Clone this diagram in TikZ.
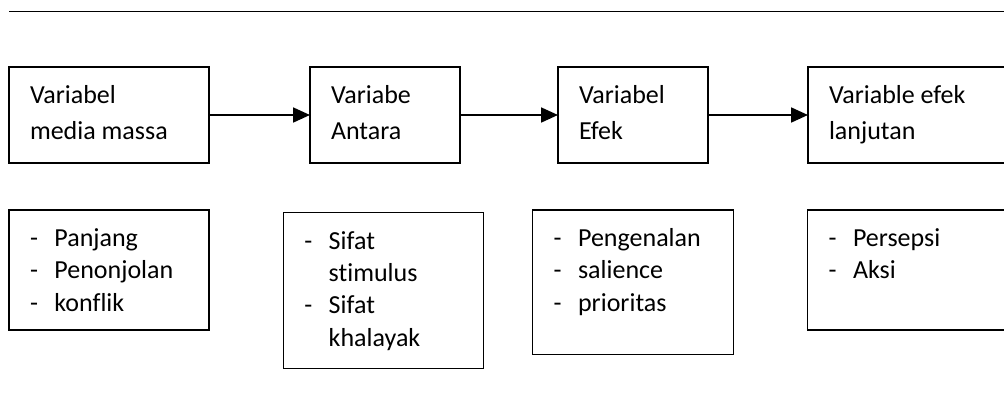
\documentclass[tikz,border=0pt]{standalone}
\usepackage{fontspec}
\setmainfont{Carlito}[Ligatures={NoCommon}]
\usepackage{tikz}
\usetikzlibrary{arrows.meta}

\newcommand{\isi}[3]{\parbox[c][#1][t]{#2}{\rule{0pt}{0.92cm}#3}}
\newcommand{\strip}{\makebox[0.61cm][l]{-}}

\begin{document}
\begin{tikzpicture}
	\clip (0,0) rectangle (25.1,-9.925);
	\draw[line width=1pt] (0.225,-0.2875) -- (25.3,-0.2875);
	\tikzstyle{every node}=[draw,rectangle,anchor=north west,inner xsep=0.525cm,inner ysep=0pt,outer sep=0pt,line width=1pt,font=\fontsize{18.5pt}{25.6pt}\selectfont];
	\node (v1) at (0.225,-1.675) {\isi{2.4cm}{3.95cm}{Variabel\\media massa}};
	\node (v2) at (7.75,-1.675) {\isi{2.4cm}{2.7cm}{Variabe\\Antara}};
	\node (v3) at (13.95,-1.675) {\isi{2.4cm}{2.7cm}{Variabel\\Efek}};
	\node (v4) at (20.2,-1.675) {\isi{2.4cm}{4.2cm}{Variable efek\\lanjutan}};
	\tikzstyle{every node}=[draw,rectangle,anchor=north west,inner xsep=0.525cm,inner ysep=0pt,outer sep=0pt,line width=1pt,font=\fontsize{18.5pt}{22.9pt}\selectfont];
	\node (d1) at (0.225,-5.25) {\isi{3cm}{3.95cm}{\strip Panjang\\\strip Penonjolan\\\strip konflik}};
	\node (d2) at (7.083,-5.317) {\isi{3.89cm}{3.96cm}{\strip Sifat\\\hspace*{0.61cm}stimulus\\\strip Sifat\\\hspace*{0.61cm}khalayak}};
	\node (d3) at (13.317,-5.25) {\isi{3.61cm}{3.965cm}{\strip Pengenalan\\\strip salience\\\strip prioritas}};
	\node (d4) at (20.19,-5.25) {\isi{3cm}{4.2cm}{\strip Persepsi\\\strip Aksi}};
	\draw[line width=1.4pt,-{Triangle[length=0.42cm,width=0.37cm]}] (v1)--(v2);
	\draw[line width=1.4pt,-{Triangle[length=0.42cm,width=0.37cm]}] (v2)--(v3);
	\draw[line width=1.4pt,-{Triangle[length=0.42cm,width=0.37cm]}] (v3)--(v4);
\end{tikzpicture}
\end{document}
